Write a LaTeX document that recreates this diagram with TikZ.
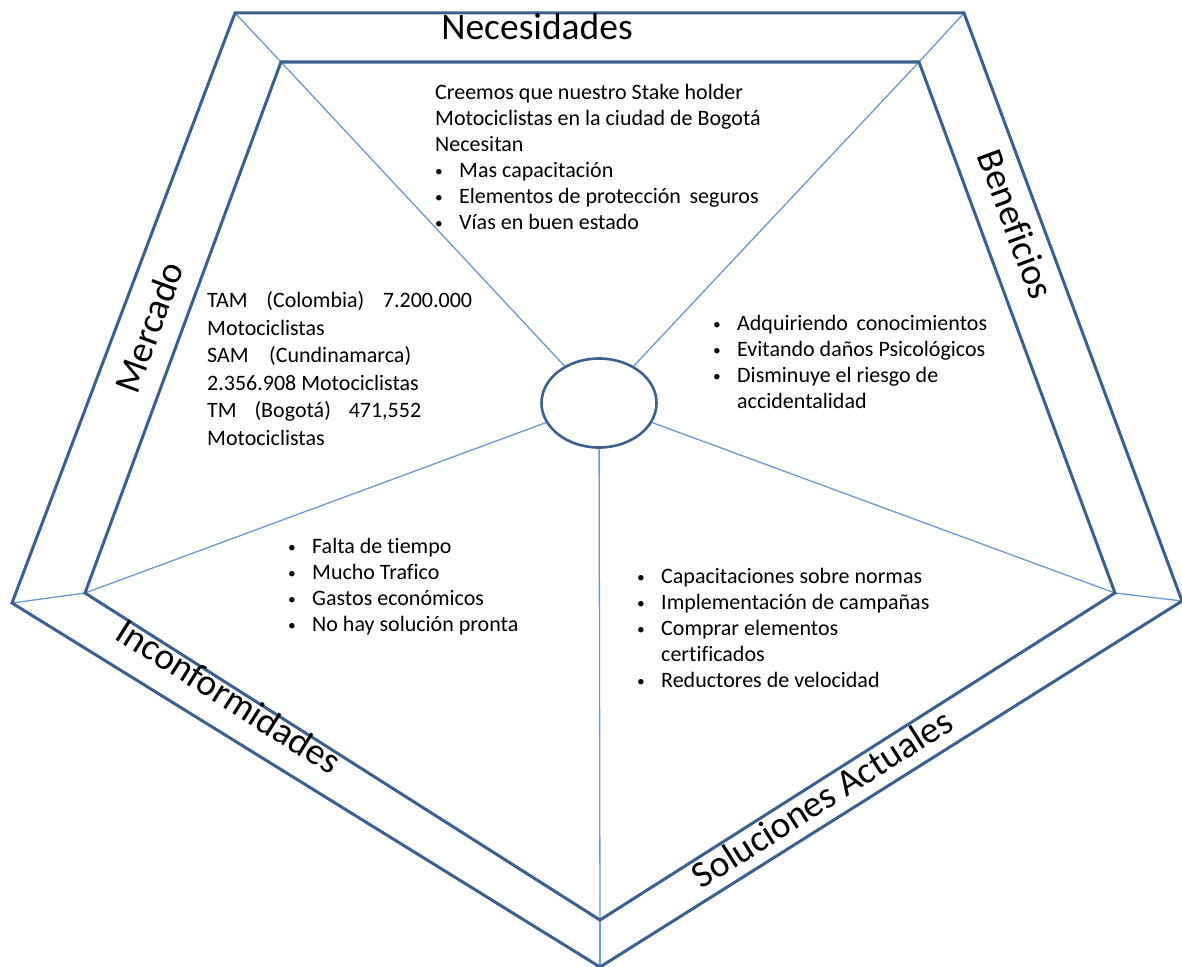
\documentclass[tikz,border=0pt]{standalone}
\usepackage{fontspec}
\setmainfont{Carlito}[Ligatures=NoCommon]
\usetikzlibrary{shapes.geometric}
\definecolor{edgeblue}{HTML}{3C5F8E}
\definecolor{spokeblue}{HTML}{6B98D0}
\newcommand\bul{\makebox[24pt][l]{\raisebox{1pt}{\scalebox{0.7}{•}}}}
\begin{document}
\begin{tikzpicture}[x=1pt,y=-1pt,
  frame/.style={draw=edgeblue, line width=3pt, line join=miter},
  spokeline/.style={draw=spokeblue, line width=1.3pt},
  body/.style={anchor=north west, align=left, inner sep=0pt, font=\fontsize{22}{26}\selectfont},
  title/.style={inner sep=0pt, font=\fontsize{37.5}{40}\selectfont},
  hub/.style={ellipse, draw=edgeblue, line width=2.6pt, minimum width=115pt, minimum height=89pt, inner sep=0pt}]
\useasboundingbox (0,0) rectangle (1182,966);
% outer pentagon
\coordinate (o1) at (235,13);
\coordinate (o2) at (964,13);
\coordinate (o3) at (1182,601);
\coordinate (o4) at (600,967);
\coordinate (o5) at (12,603);
% inner pentagon
\coordinate (i1) at (281,62);
\coordinate (i2) at (919,62);
\coordinate (i3) at (1115,593);
\coordinate (i4) at (600,920);
\coordinate (i5) at (85,593);
\node[hub] (c) at (599,403) {};
\foreach \k in {1,...,5}{
  \draw[spokeline] (o\k) -- (i\k);
  \draw[spokeline] (i\k) -- (c);
}
\draw[frame] (o1) -- (o2) -- (o3) -- (o4) -- (o5) -- cycle;
\draw[frame] (i1) -- (i2) -- (i3) -- (i4) -- (i5) -- cycle;
% titles
\node[title] (tn) at (537,27) {Necesidades};
\node[title, rotate=-69.7] (tb) at (1016,224) {Beneficios};
\node[title, rotate=69.7] (tm) at (149,327) {Mercado};
\node[title, rotate=-32.4] (ti) at (229,696) {Inconformidades};
\node[title, rotate=32.4] (ts) at (822,798) {Soluciones Actuales};
% bodies
\node[body] (bn) at (435,81) {\strut Creemos que nuestro Stake holder\\
Motociclistas en la ciudad de Bogotá\\
Necesitan\\
\bul Mas capacitación\\
\bul Elementos de protección \,seguros\\
\bul Vías en buen estado};
\node[body, font=\fontsize{22}{27.6}\selectfont] (bm) at (207,288) {\strut\makebox[265pt][s]{TAM \ (Colombia) \ 7.200.000}\\
Motociclistas\\
\makebox[204pt][s]{SAM \ (Cundinamarca)}\\
2.356.908 Motociclistas\\
\makebox[214pt][s]{TM \ (Bogotá) \ 471,552}\\
Motociclistas};
\node[body] (bb) at (713,312) {\strut\bul Adquiriendo \,conocimientos\\
\bul Evitando daños Psicológicos\\
\bul Disminuye el riesgo de\\
\hspace*{24pt}accidentalidad};
\node[body] (bi) at (288,535) {\strut\bul Falta de tiempo\\
\bul Mucho Trafico\\
\bul Gastos económicos\\
\bul No hay solución pronta};
\node[body] (bs) at (637,565) {\strut\bul Capacitaciones sobre normas\\
\bul Implementación de campañas\\
\bul Comprar elementos\\
\hspace*{24pt}certificados\\
\bul Reductores de velocidad};
\end{tikzpicture}
\end{document}
